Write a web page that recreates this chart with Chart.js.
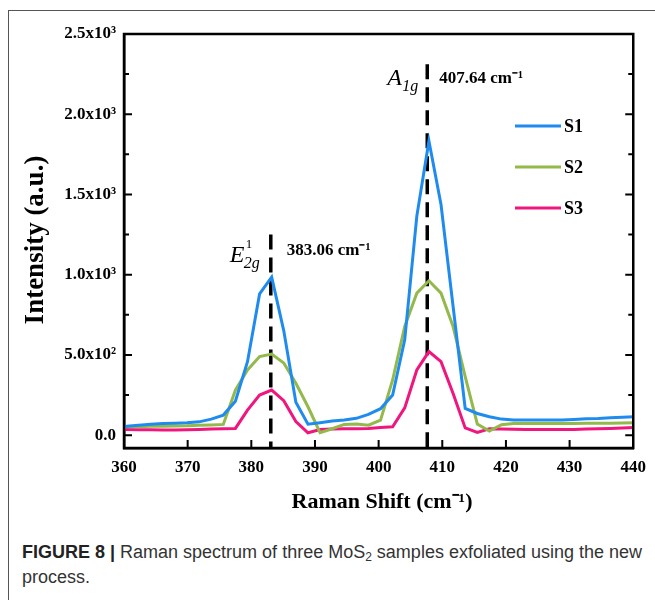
<!DOCTYPE html>
<html lang="en">
<head>
<meta charset="UTF-8">
<script src="https://cdn.jsdelivr.net/npm/chart.js"></script>
<title>Raman spectrum</title>
<style>
    body { margin: 0; background: #fff; }
    .frame { position: absolute; left: 8px; top: 10px; width: 700px; height: 600px;
             border-top: 1px solid #555; border-left: 1px solid #555; }
    .grafico { position: absolute; left: 0; top: 0; width: 655px; height: 520px; }
    .legenda { position: absolute; left: 22px; top: 540px; width: 632px;
               font-family: "Liberation Sans", Arial, sans-serif; font-size: 18px;
               line-height: 25px; color: #333; letter-spacing: 0; }
    .legenda b { color: #222; }
    .legenda sub { font-size: 12px; line-height: 0; vertical-align: -3px; }
</style>
</head>
<body>
<div class="frame"></div>
<div class="grafico"><canvas id="raman" width="655" height="520"></canvas></div>
<div class="legenda"><b>FIGURE 8 |</b> Raman spectrum of three MoS<sub>2</sub> samples exfoliated using the new process.</div>
<script>
// Raman shift (cm-1)
var shift = [358.5, 360.4, 362.3, 364.2, 366.1, 368.0, 369.9, 371.8, 373.7, 375.6,
             377.5, 379.4, 381.3, 383.2, 385.1, 387.0, 388.9, 390.8, 392.7, 394.6,
             396.5, 398.4, 400.3, 402.2, 404.1, 406.0, 407.9, 409.8, 411.7, 413.6,
             415.5, 417.4, 419.3, 421.2, 423.1, 425.0, 426.9, 428.8, 430.7, 432.6,
             434.5, 436.4, 438.3, 440.2, 442.1];
var s1 = [50, 55, 62, 68, 72, 74, 77, 83, 100, 125,
          212, 458, 880, 985, 650, 205, 68, 78, 88, 95,
          105, 130, 165, 250, 594, 1365, 1833, 1437, 802, 167,
          135, 115, 100, 95, 95, 95, 95, 95, 98, 102,
          104, 108, 112, 115, 115];
var s2 = [50, 52, 53, 55, 55, 57, 58, 62, 64, 67,
          280, 406, 490, 505, 450, 323, 177, 15, 40, 67,
          69, 62, 94, 344, 677, 885, 962, 885, 677, 365,
          70, 25, 65, 73, 73, 73, 73, 73, 73, 74,
          75, 75, 76, 77, 77];
var s3 = [35, 35, 34, 33, 32, 32, 33, 35, 38, 40,
          42, 156, 250, 281, 215, 85, 15, 35, 38, 40,
          40, 42, 48, 52, 170, 406, 521, 458, 260, 45,
          17, 40, 38, 37, 36, 35, 35, 35, 36, 38,
          40, 42, 45, 48, 48];
var nomes = ['S1', 'S2', 'S3'];
var cores = ['#1f8bee', '#93b94b', '#f0167d'];
// peak positions and top of the dashed markers
var picos = [383.06, 407.64];
var topoPico = [1250, 2312];
var yTicks = [0, 500, 1000, 1500, 2000, 2500];
var yTickLabels = ['0.0', '5.0x10²', '1.0x10³', '1.5x10³', '2.0x10³', '2.5x10³'];

function pontos(ys) {
    var arr = [];
    for (var i = 0; i < shift.length; i++) arr.push({ x: shift[i], y: ys[i] });
    return arr;
}

var series = [s1, s2, s3];
var datasets = [];
for (var i = 0; i < series.length; i++) {
    datasets.push({
        label: nomes[i], data: pontos(series[i]), borderColor: cores[i],
        borderWidth: 3, pointRadius: 0, tension: 0, fill: false
    });
}
for (var j = 0; j < picos.length; j++) {
    datasets.push({
        label: 'pico' + j, data: [{ x: picos[j], y: topoPico[j] }, { x: picos[j], y: -80 }],
        borderColor: '#000', borderWidth: 3.5, borderDash: [15, 8], pointRadius: 0, clip: false
    });
}

const serif = '"Liberation Serif", "Times New Roman", serif';

// frame ticks, legend, labels
const extras = {
    id: 'extras',
    afterDraw(chart) {
        const c = chart.ctx, a = chart.chartArea;
        const x = chart.scales.x, y = chart.scales.y;
        c.save();
        c.strokeStyle = '#000';
        c.lineWidth = 2.5;
        c.strokeRect(a.left, a.top, a.right - a.left, a.bottom - a.top);
        c.lineWidth = 2;
        c.beginPath();
        for (var v = 0; v <= 2500; v += 250) {
            var py = y.getPixelForValue(v);
            var len = (v % 500 === 0) ? 8 : 5;
            c.moveTo(a.left, py); c.lineTo(a.left + len, py);
            c.moveTo(a.right, py); c.lineTo(a.right - len, py);
        }
        for (var t = 370; t < 440; t += 10) {
            var px = x.getPixelForValue(t);
            c.moveTo(px, a.bottom); c.lineTo(px, a.bottom - 8);
        }
        c.stroke();

        // legend
        c.lineWidth = 3;
        c.font = 'bold 18px ' + serif;
        c.textBaseline = 'middle';
        for (var k = 0; k < nomes.length; k++) {
            var ly = 126 + k * 41;
            c.strokeStyle = cores[k];
            c.beginPath(); c.moveTo(515, ly); c.lineTo(561, ly); c.stroke();
            c.fillStyle = '#000';
            c.fillText(nomes[k], 564, ly + 1);
        }

        // peak labels
        c.textBaseline = 'alphabetic';
        c.font = 'bold 17px ' + serif;
        var x1 = x.getPixelForValue(picos[0]), x2 = x.getPixelForValue(picos[1]);
        c.fillText('383.06 cm⁻¹', x1 + 16, 255);
        c.fillText('407.64 cm⁻¹', x2 + 12, 83);
        c.font = 'italic 24px ' + serif;
        c.fillText('E', x1 - 41, 262);
        c.fillText('A', x2 - 40, 85);
        c.font = 'italic 16px ' + serif;
        c.fillText('2g', x1 - 27, 268);
        c.fillText('1g', x2 - 25, 91);
        c.font = '13px ' + serif;
        c.fillText('1', x1 - 25, 248);

        // axis titles
        c.font = 'bold 22px ' + serif;
        c.textAlign = 'center';
        c.fillText('Raman Shift (cm⁻¹)', 382, 508);
        c.translate(43, 240);
        c.rotate(-Math.PI / 2);
        c.font = 'bold 27px ' + serif;
        c.fillText('Intensity (a.u.)', 0, 0);
        c.restore();
    }
};

const ctx = document.getElementById('raman');
var grafico = new Chart(ctx, {
    type: 'line',
    data: { datasets: datasets },
    options: {
        responsive: false,
        animation: false,
        layout: { padding: { top: 34, right: 17, left: 0, bottom: 0 } },
        plugins: { legend: { display: false }, tooltip: { enabled: false } },
        scales: {
            x: {
                type: 'linear', min: 360, max: 440,
                grid: { display: false, drawTicks: false },
                border: { display: true, color: '#000', width: 2.5 },
                ticks: { stepSize: 10, padding: 9, color: '#000', font: { family: serif, size: 17, weight: 'bold' } },
                afterFit: function (s) { s.height = 72; }
            },
            y: {
                min: -80, max: 2500,
                grid: { display: false, drawTicks: false },
                border: { display: true, color: '#000', width: 2.5 },
                afterBuildTicks: function (s) { s.ticks = yTicks.map(function (v) { return { value: v }; }); },
                ticks: {
                    padding: 8, color: '#000', font: { family: serif, size: 17, weight: 'bold' },
                    callback: function (v) { return yTickLabels[yTicks.indexOf(v)]; }
                },
                afterFit: function (s) { s.width = 124; }
            }
        }
    },
    plugins: [extras]
});
</script>
</body>
</html>
